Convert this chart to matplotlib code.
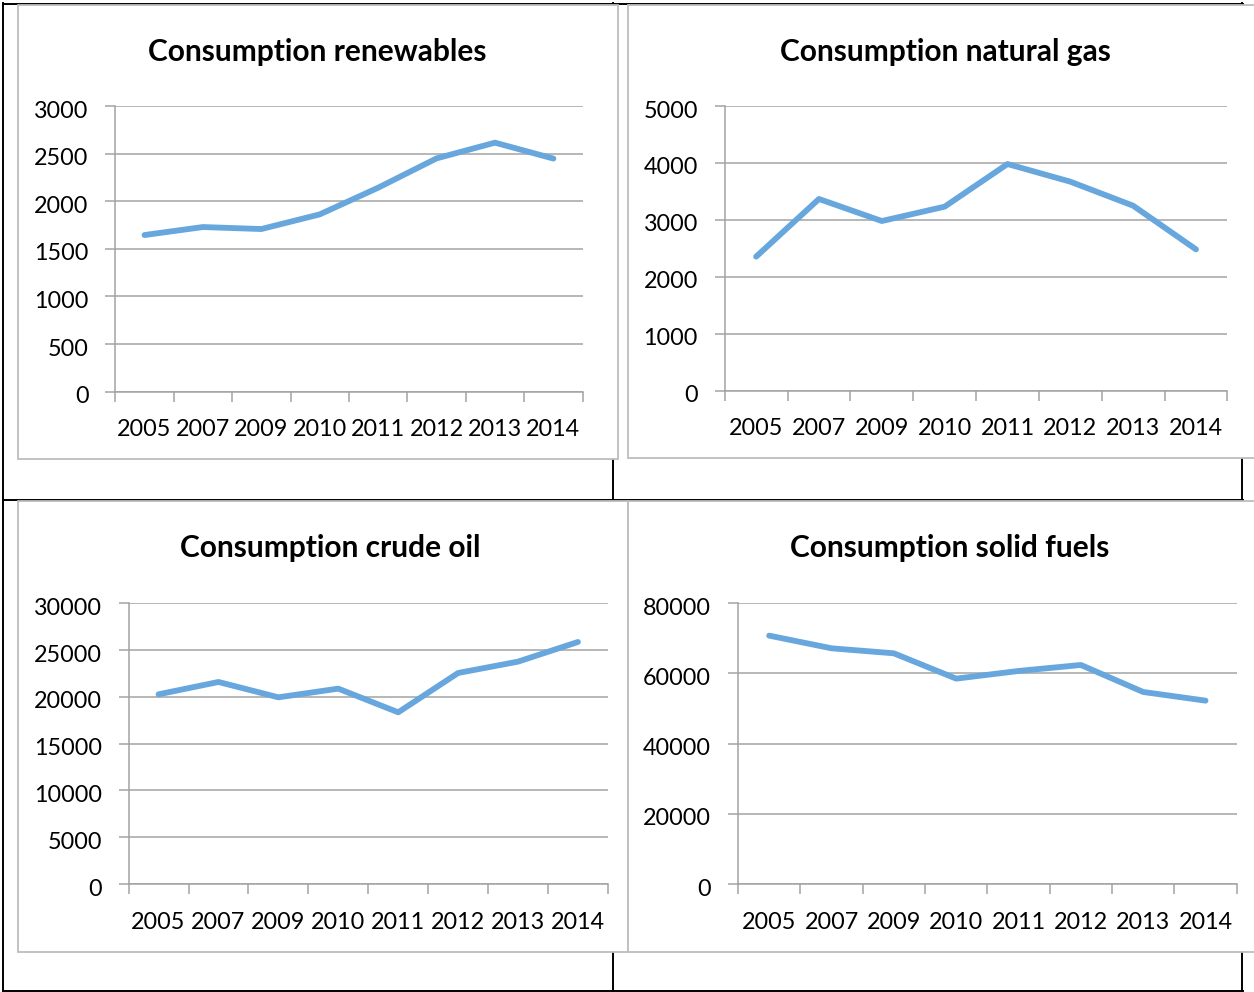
import numpy as np
import matplotlib
matplotlib.use("Agg")
import matplotlib.pyplot as plt
import matplotlib.transforms as mtransforms
from matplotlib.lines import Line2D
from matplotlib.patches import Rectangle

plt.rcParams['font.family'] = ['Lato', 'DejaVu Sans']

years = ['2005', '2007', '2009', '2010', '2011', '2012', '2013', '2014']
renewables = [1645, 1729, 1708, 1862, 2142, 2450, 2615, 2448]
natural_gas = [2354, 3367, 2980, 3232, 3981, 3671, 3249, 2482]
crude_oil = [20273, 21591, 19952, 20879, 18349, 22553, 23765, 25867]
solid_fuels = [70784, 67173, 65748, 58527, 60713, 62423, 54727, 52257]

titles = ['Consumption renewables', 'Consumption natural gas',
          'Consumption crude oil', 'Consumption solid fuels']

W, H = 1254, 992
fig = plt.figure(figsize=(W / 100, H / 100), dpi=100)

LINE = '#67A7DD'
GRID = '#A3A3A3'
FRAME = '#BDBDBD'


def fx(x):
    return x / W


def fy(y):
    return 1 - y / H


def hline(y, x0, x1, color='black', lw=1.4, z=1):
    fig.add_artist(Line2D([fx(x0), fx(x1)], [fy(y), fy(y)], color=color, lw=lw,
                          transform=fig.transFigure, zorder=z))


def vline(x, y0, y1, color='black', lw=1.4, z=1):
    fig.add_artist(Line2D([fx(x), fx(x)], [fy(y0), fy(y1)], color=color, lw=lw,
                          transform=fig.transFigure, zorder=z))


# table borders
hline(3.5, 3, 1243)
hline(499.7, 3, 1243)
hline(990.5, 3, 1243)
vline(3, 3, 991)
vline(613, 3, 991)
vline(1241.5, 3, 991)

# chart frames (x0, y0, x1, y1)
frames = [(18, 4.5, 617.5, 459), (627.5, 4.5, 1262, 458),
          (18, 501, 628, 951.5), (627.5, 501, 1262, 951.5)]
for (x0, y0, x1, y1) in frames:
    fig.add_artist(Rectangle((fx(x0), fy(y1)), fx(x1) - fx(x0), fy(y0) - fy(y1),
                             transform=fig.transFigure, facecolor='white',
                             edgecolor=FRAME, lw=1.3, zorder=2))

# plot areas (left, top, right, bottom) in px
plots = [(115.3, 106, 582.6, 391.7), (724.7, 106, 1227.4, 390.7),
         (128.6, 603.3, 607.9, 884), (738, 603.3, 1236.7, 884)]
series = [renewables, natural_gas, crude_oil, solid_fuels]
ymaxes = [3000, 5000, 30000, 80000]
steps = [500, 1000, 5000, 20000]
title_pos = [(317.4, 52), (945, 52), (330, 548), (949.6, 548)]

shift = mtransforms.ScaledTranslation(1 / 100, -3 / 100, fig.dpi_scale_trans)

for (l, t, r, b), vals, ymax, step, title, (tx, ty) in zip(
        plots, series, ymaxes, steps, titles, title_pos):
    ax = fig.add_axes([fx(l), fy(b), fx(r) - fx(l), fy(t) - fy(b)], zorder=3)
    ax.patch.set_alpha(0)
    x = np.arange(len(years))
    ax.plot(x, vals, color=LINE, lw=4.2, solid_capstyle='round',
            solid_joinstyle='round', zorder=3, clip_on=False)
    ax.set_xlim(-0.5, len(years) - 0.5)
    ax.set_ylim(0, ymax)
    ax.set_yticks(np.arange(0, ymax + 1, step))
    ax.yaxis.grid(True, color=GRID, lw=1.1)
    ax.set_axisbelow(True)
    ax.set_xticks(np.arange(-0.5, len(years), 1))
    ax.set_xticklabels([])
    ax.set_xticks(x, minor=True)
    ax.set_xticklabels(years, minor=True)
    ax.tick_params(axis='x', which='major', length=7, width=1.1, color=GRID)
    ax.tick_params(axis='x', which='minor', length=0, pad=20, labelsize=16.8)
    ax.tick_params(axis='y', which='major', length=7, width=1.1, color=GRID,
                   pad=13, labelsize=16.8)
    for lab in ax.get_yticklabels():
        lab.set_transform(lab.get_transform() + shift)
    for s in ['top', 'right']:
        ax.spines[s].set_visible(False)
    for s in ['left', 'bottom']:
        ax.spines[s].set_color(GRID)
        ax.spines[s].set_linewidth(1.1)
    fig.text(fx(tx), fy(ty), title, ha='center', va='center', fontsize=21.5,
             fontweight='bold', zorder=4)

fig.savefig('out.png', dpi=100)
